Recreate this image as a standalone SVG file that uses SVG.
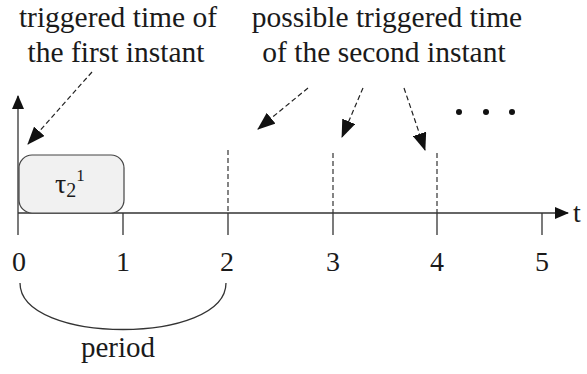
<svg xmlns="http://www.w3.org/2000/svg" width="587" height="374" viewBox="0 0 587 374">
<style>
.axis{stroke:#333;stroke-width:1.3;fill:none}
.tick{stroke:#333;stroke-width:1.3}
.dv{stroke:#333;stroke-width:1.2;stroke-dasharray:5,3}
.da{stroke:#222;stroke-width:1.2;stroke-dasharray:5,3;fill:none}
</style>
<defs>
<marker id="ah" markerUnits="userSpaceOnUse" markerWidth="18" markerHeight="14" refX="17" refY="7" orient="auto">
<path d="M0,0 L18,7 L0,14 z" fill="#111"/>
</marker>
<marker id="ax" markerUnits="userSpaceOnUse" markerWidth="14" markerHeight="12" refX="13" refY="6" orient="auto">
<path d="M0,0 L14,6 L0,12 z" fill="#111"/>
</marker>
</defs>
<rect width="587" height="374" fill="#fff"/>
<g font-family="Liberation Serif, Times New Roman, serif" fill="#1a1a1a">
<g id="labels">
<text x="118" y="27" font-size="29.5" text-anchor="middle">triggered time of</text>
<text x="116" y="62" font-size="29.5" text-anchor="middle">the first instant</text>
<text x="387" y="27" font-size="29.5" text-anchor="middle">possible triggered time</text>
<text x="384" y="62" font-size="29.5" text-anchor="middle">of the second instant</text>
</g>
<g id="axes">
<line class="axis" x1="18" y1="235" x2="18" y2="96" marker-end="url(#ax)"/>
<line class="axis" x1="18" y1="213" x2="568" y2="213" marker-end="url(#ax)"/>
<text x="573" y="222" font-size="28">t</text>
</g>
<g id="ticks">
<line class="tick" x1="123" y1="213" x2="123" y2="235"/>
<line class="tick" x1="228" y1="213" x2="228" y2="235"/>
<line class="tick" x1="333" y1="213" x2="333" y2="235"/>
<line class="tick" x1="437" y1="213" x2="437" y2="235"/>
<line class="tick" x1="542" y1="213" x2="542" y2="235"/>
<text font-size="28" text-anchor="middle" y="271"><tspan x="19">0</tspan><tspan x="123">1</tspan><tspan x="227">2</tspan><tspan x="333">3</tspan><tspan x="437">4</tspan><tspan x="542">5</tspan></text>
</g>
<g id="task">
<rect x="19" y="155" width="105" height="58" rx="13" fill="#f1f1f1" stroke="#444" stroke-width="1.2"/>
<text x="55" y="193" font-size="28">τ<tspan font-size="20" dy="4">2</tspan><tspan font-size="17" dy="-16">1</tspan></text>
</g>
<g id="possible">
<line class="dv" x1="228" y1="150" x2="228" y2="213"/>
<line class="dv" x1="333" y1="153" x2="333" y2="213"/>
<line class="dv" x1="437" y1="153" x2="437" y2="213"/>
</g>
<g id="ellipsis" fill="#111">
<circle cx="459" cy="112" r="3"/>
<circle cx="486" cy="112" r="3"/>
<circle cx="512" cy="112" r="3"/>
</g>
<g id="period">
<path class="axis" d="M20,283 C20,345 226,345 226,283"/>
<text x="118" y="357" font-size="29" text-anchor="middle">period</text>
</g>
</g>
<g id="connectors">
<line class="da" x1="92" y1="72" x2="28" y2="144" marker-end="url(#ah)"/>
<line class="da" x1="308" y1="88" x2="258" y2="129" marker-end="url(#ah)"/>
<line class="da" x1="363" y1="88" x2="342" y2="137" marker-end="url(#ah)"/>
<line class="da" x1="404" y1="88" x2="425" y2="150" marker-end="url(#ah)"/>
</g>
</svg>
